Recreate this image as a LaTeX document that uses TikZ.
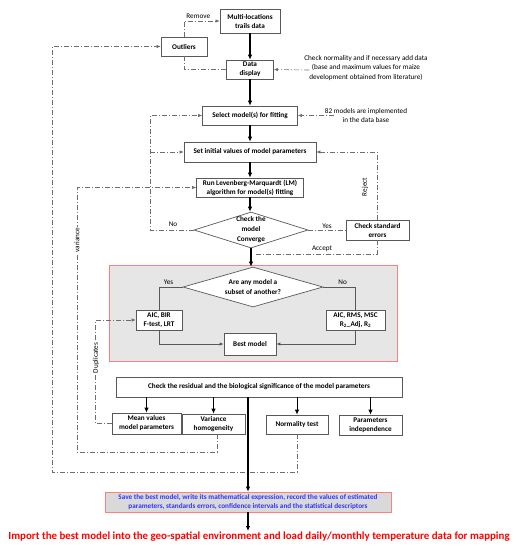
\documentclass[tikz,border=0pt]{standalone}
\usepackage{fontspec}
\setmainfont{Carlito}
\usetikzlibrary{shapes.geometric,arrows.meta}
\definecolor{boxgray}{HTML}{595959}
\definecolor{ddgray}{HTML}{6E6E6E}
\definecolor{panel}{HTML}{E6E6E6}
\definecolor{panelred}{HTML}{FF7F7F}
\definecolor{savefill}{HTML}{D9D9D9}
\definecolor{saveblue}{HTML}{3333FF}
\begin{document}
\begin{tikzpicture}[x=1pt,y=-1pt,
  box/.style={draw=boxgray,line width=0.7pt,fill=white,inner sep=1pt,align=center,
    font=\fontsize{7.2}{9}\selectfont\bfseries},
  dia/.style={diamond,draw=boxgray,line width=0.7pt,fill=white,inner sep=0pt,align=center,
    font=\fontsize{7.2}{10}\selectfont\bfseries},
  note/.style={align=center,inner sep=0pt,font=\fontsize{7.2}{9.5}\selectfont},
  dd/.style={draw=ddgray,line width=0.6pt,dash pattern=on 5pt off 2pt on 1pt off 2pt},
  sub/.style={draw=boxgray,line width=0.8pt},
  flow/.style={draw=black,line width=1.2pt,-{Latex[length=5pt,width=4.5pt]}},
  tip/.style={-{Latex[length=4pt,width=3.5pt]}}]
\useasboundingbox (0,0) rectangle (520,550);

\node[box,minimum width=60pt,minimum height=24pt] (multi) at (250,21) {Multi-locations\\trails data};
\node[box,minimum width=46pt,minimum height=19pt] (outl) at (184,46.5) {Outliers};
\node[box,minimum width=47pt,minimum height=19pt] (disp) at (250,69.5) {Data\\display};
\node[box,minimum width=95pt,minimum height=19pt] (sel) at (250,115.5) {Select model(s) for fitting};
\node[box,minimum width=132pt,minimum height=20pt] (init) at (250,152) {Set initial values of model parameters};
\node[box,minimum width=107pt,minimum height=19pt] (lm) at (250,187.5) {Run Levenberg-Marquardt (LM)\\algorithm for model(s) fitting};
\node[dia,minimum width=114pt,minimum height=36pt,aspect=3.2] (conv) at (251,230) {Check the\\model\\Converge};
\node[box,minimum width=63pt,minimum height=20pt] (stderr) at (377.5,230) {Check standard\\errors};

\node[note] (cktxt) at (366,68) {Check normality and if necessary add data\\(base and maximum values for maize\\development obtained from literature)};
\node[note] (m82txt) at (366,115.5) {82 models are implemented\\in the data base};
\coordinate (ck) at (309,70);
\coordinate (m82) at (334,115.5);

% grey panel
\node[draw=panelred,fill=panel,line width=0.8pt,minimum width=288pt,minimum height=96pt] (grp) at (253,313) {};
\node[dia,minimum width=140pt,minimum height=40pt,aspect=3.5] (subset) at (253,287) {Are any model a\\subset of another?};
\node[box,minimum width=46pt,minimum height=20pt] (aicl) at (159,320) {AIC, BIR\\F-test, LRT};
\node[box,minimum width=59pt,minimum height=20pt] (aicr) at (355.5,320) {AIC, RMS, MSC\\R\textsubscript{2}\_Adj, R\textsubscript{2}};
\node[box,minimum width=52pt,minimum height=22pt] (best) at (250,344) {Best model};

\node[box,minimum width=286pt,minimum height=20pt] (resid) at (259,387) {Check the residual and the biological significance of the model parameters};
\node[box,minimum width=69pt,minimum height=21pt] (mean) at (146.5,423.5) {Mean values\\model parameters};
\node[box,minimum width=63pt,minimum height=20pt] (var) at (213.5,424) {Variance\\homogeneity};
\node[box,minimum width=62pt,minimum height=19pt] (norm) at (297,424.5) {Normality test};
\node[box,minimum width=63pt,minimum height=20pt] (indep) at (370.5,425) {Parameters\\independence};

\node[box,draw=panelred,fill=savefill,text=saveblue,minimum width=286pt,minimum height=20pt] (save) at (248,502)
  {Save the best model, write its mathematical expression, record the values of estimated\\parameters, standards errors, confidence intervals and the statistical descriptors};
\node[inner sep=1pt,text=red,font=\fontsize{10.9}{12}\selectfont\bfseries] (final) at (259,537)
  {Import the best model into the geo-spatial environment and load daily/monthly temperature data for mapping};

\draw[flow] (multi) -- (disp);
\draw[flow] (disp) -- (sel);
\draw[flow] (sel) -- (init);
\draw[flow] (init) -- (lm);
\draw[flow] (lm.south) -- (lm.south |- conv.north);
\draw[flow] (conv.south) -- (conv.south |- subset.north);

\draw[dd,tip] (outl.north) |- (multi.west) node[note,pos=0.7,above=2pt] {Remove};
\draw[dd] (outl.south) |- (disp.west);
\draw[dd,tip] (ck) -- (disp.east);
\draw[dd,tip] (m82) -- (sel.east);

\draw[dd] (conv.east) -- (stderr.west) node[note,midway,above=1.5pt] {Yes};
\draw[dd,tip] (stderr.north) |- (init.east);
\node[note,rotate=90] (rej) at (365,187) {Reject};
\coordinate (acc) at (255,254);
\draw[dd] (stderr.south) |- (acc);
\node[note] (acctxt) at (322,249) {Accept};

\coordinate (nox) at (150,230);
\draw[dd,tip] (conv.west) -- (nox) |- (sel.west);
\draw[dd,tip] (nox |- init.west) -- (init.west);
\node[note] (notxt) at (173,224) {No};

\coordinate (vbot) at (77,452);
\draw[dd,tip] ([xshift=3.5pt]var.south) |- (vbot) |- (lm.west);
\node[note,rotate=90,fill=white,inner sep=1pt] (vartxt) at (77,240) {variance};
\coordinate (obot) at (52,472);
\draw[dd,tip] (norm.south) |- (obot) |- (outl.west);
\draw[dd,tip] (mean.west) -- ++(-16,0) |- (aicl.west);
\node[note,rotate=90,fill=white,inner sep=1pt] (duptxt) at (96,358) {Duplicates};

\draw[sub] (subset.west) -| (aicl.north) node[note,pos=0.3,above=2pt] {Yes};
\draw[sub] (subset.east) -| (aicr.north) node[note,pos=0.3,above=2pt] {No};
\draw[sub,tip] (aicl.south) |- (best.west);
\draw[sub,tip] (aicr.south) |- (best.east);

\foreach \n in {mean,var,norm,indep}
  \draw[flow,line width=0.9pt] (\n.north |- resid.south) -- (\n.north);
\draw[flow] (save.north |- resid.south) -- (save.north);
\draw[flow] (save.south) -- (save.south |- final.north);
\end{tikzpicture}
\end{document}
